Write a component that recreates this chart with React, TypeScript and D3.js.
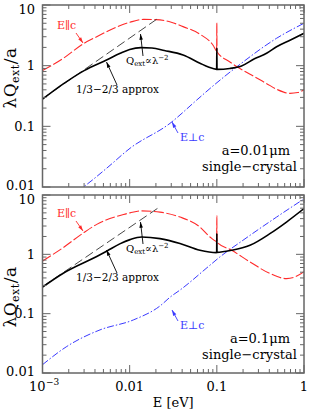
import * as React from 'react';
import * as d3 from 'd3';

// photon energy in eV, lambda*Qext/a values
// panel 1: a = 0.01 um
const p1Par: [number, number][] = [
  [0.001, 0.83], [0.00173, 1.32], [0.00294, 2.3], [0.00419, 3.0], [0.0065, 4.1],
  [0.0101, 5.2], [0.0145, 5.8], [0.02, 5.75], [0.03, 5.2], [0.041, 4.4],
  [0.064, 3.3], [0.091, 2.15], [0.0995, 1.75], [0.1, 5.0], [0.1005, 1.7],
  [0.14, 1.16], [0.17, 0.96], [0.25, 0.7], [0.37, 0.51], [0.5, 0.4],
  [0.69, 0.35], [0.85, 0.36], [1.0, 0.4],
];
const p1Perp: [number, number][] = [
  [0.0025, 0.0085], [0.00294, 0.01], [0.00545, 0.0204], [0.0101, 0.0435],
  [0.029, 0.112], [0.0586, 0.27], [0.0834, 0.42], [0.192, 1.1], [0.485, 2.83], [1.0, 5.0],
];
const p1Avg: [number, number][] = [
  [0.001, 0.28], [0.00173, 0.5], [0.003, 0.83], [0.0055, 1.25], [0.0078, 1.6],
  [0.01, 1.85], [0.0135, 1.98], [0.018, 1.95], [0.025, 1.78], [0.041, 1.5],
  [0.064, 1.1], [0.08, 0.95], [0.0995, 0.87], [0.1, 1.96], [0.1005, 0.87],
  [0.141, 0.9], [0.192, 0.99], [0.27, 1.3], [0.372, 1.6], [0.485, 2.05],
  [0.7, 2.65], [1.0, 3.42],
];

// panel 2: a = 0.1 um
const p2Par: [number, number][] = [
  [0.001, 0.77], [0.00173, 1.3], [0.00294, 2.29], [0.00419, 3.2], [0.0085, 4.7],
  [0.0101, 5.0], [0.0137, 5.4], [0.0223, 5.14], [0.0378, 4.25], [0.064, 2.88],
  [0.0834, 1.96], [0.0995, 1.65], [0.1, 4.5], [0.1005, 1.6], [0.148, 1.17],
  [0.24, 0.745], [0.406, 0.476], [0.63, 0.39], [0.8, 0.42], [1.0, 0.51],
];
const p2Perp: [number, number][] = [
  [0.001, 0.0138], [0.0019, 0.028], [0.00457, 0.0533], [0.011, 0.0783],
  [0.0223, 0.135], [0.0295, 0.193], [0.0378, 0.25], [0.0834, 0.656],
  [0.108, 0.9], [0.2, 1.73], [0.485, 4.25], [1.0, 8.6],
];
const p2Avg: [number, number][] = [
  [0.001, 0.28], [0.00173, 0.48], [0.00419, 0.92], [0.0055, 1.14], [0.0077, 1.5],
  [0.0101, 1.77], [0.0137, 1.96], [0.0223, 1.84], [0.0378, 1.52], [0.064, 1.17],
  [0.0995, 1.07], [0.1, 2.23], [0.1005, 1.08], [0.148, 1.17], [0.24, 1.42],
  [0.406, 2.23], [0.63, 3.5], [1.0, 5.9],
];

// Qext ∝ λ^-2 limit (same in both panels)
const approx: [number, number][] = [[0.001, 0.285], [0.022, 6.27]];

const xTicks = [0.001, 0.01, 0.1, 1];
const yTicks = [0.01, 0.1, 1, 10];
const yTickLabels = ['0.01', '0.1', '1', '10'];

const FONT = 'DejaVu Serif';
const RED = '#ff2a2a';
const BLUE = '#3a3aff';
const FRAME = '#666';

const x = d3.scaleLog().domain([0.001, 1]).range([42.5, 304]);

const minorTicks = (lo: number, hi: number) => {
  const out: number[] = [];
  for (let d = lo; d < hi; d *= 10) for (let k = 2; k <= 9; k++) out.push(d * k);
  return out;
};

const Arrow = ({ x1, y1, x2, y2, color }) => {
  const a = Math.atan2(y2 - y1, x2 - x1);
  const L = 6, w = 0.3;
  const p1 = [x2 - L * Math.cos(a - w), y2 - L * Math.sin(a - w)];
  const p2 = [x2 - L * Math.cos(a + w), y2 - L * Math.sin(a + w)];
  return (
    <g>
      <line x1={x1} y1={y1} x2={x2} y2={y2} stroke={color} strokeWidth={0.9} />
      <path d={`M${x2},${y2}L${p1[0]},${p1[1]}L${p2[0]},${p2[1]}Z`} fill={color} />
    </g>
  );
};

const Panel = ({ id, top, bottom, par, perp, avg, size, showX, dy, yLabelMid }) => {
  const y = d3.scaleLog().domain([0.01, 10]).range([bottom, top]);
  const line = d3
    .line<[number, number]>()
    .x((d) => x(d[0]))
    .y((d) => y(d[1]))
    .curve(d3.curveMonotoneX);
  const left = x.range()[0];
  const right = x.range()[1];
  const minX = minorTicks(0.001, 1);
  const minY = minorTicks(0.01, 10);
  // keep the edge labels inside the picture / off the neighbour panel
  const labelY = (t: number) => {
    if (t === 10) return y(t) + 9;
    if (t === 0.01) return y(t) + 3;
    return y(t) + 4.7;
  };
  return (
    <g>
      <defs>
        <clipPath id={id}>
          <rect x={left} y={top} width={right - left} height={bottom - top} />
        </clipPath>
      </defs>
      <g clipPath={`url(#${id})`} fill='none'>
        <path d={line(perp)} stroke={BLUE} strokeWidth={1} strokeDasharray='7 2 1.5 2' />
        <path d={line(par)} stroke={RED} strokeWidth={1.1} strokeDasharray='10 2.5' />
        <path d={line(approx)} stroke='#333' strokeWidth={0.9} strokeDasharray='9 4' />
        <path d={line(avg)} stroke='#000' strokeWidth={1.6} />
      </g>
      {/* ticks on all four sides */}
      <g stroke={FRAME} strokeWidth={1}>
        {xTicks.map((t) => (
          <g key={'xt' + t}>
            <line x1={x(t)} x2={x(t)} y1={bottom} y2={bottom - 8} />
            <line x1={x(t)} x2={x(t)} y1={top} y2={top + 8} />
          </g>
        ))}
        {minX.map((t) => (
          <g key={'xm' + t}>
            <line x1={x(t)} x2={x(t)} y1={bottom} y2={bottom - 4} />
            <line x1={x(t)} x2={x(t)} y1={top} y2={top + 4} />
          </g>
        ))}
        {yTicks.map((t) => (
          <g key={'yt' + t}>
            <line x1={left} x2={left + 8} y1={y(t)} y2={y(t)} />
            <line x1={right} x2={right - 8} y1={y(t)} y2={y(t)} />
          </g>
        ))}
        {minY.map((t) => (
          <g key={'ym' + t}>
            <line x1={left} x2={left + 4} y1={y(t)} y2={y(t)} />
            <line x1={right} x2={right - 4} y1={y(t)} y2={y(t)} />
          </g>
        ))}
      </g>
      <rect x={left} y={top} width={right - left} height={bottom - top} fill='none' stroke={FRAME} strokeWidth={1.5} />
      {yTicks.map((t, i) => (
        <text key={'yl' + t} x={35} y={labelY(t)} textAnchor='end' fontFamily={FONT} fontSize={13}>
          {yTickLabels[i]}
        </text>
      ))}
      {showX && (
        <g fontFamily={FONT} fontSize={13}>
          <text x={x(0.001) + 3} y={bottom + 18} textAnchor='end'>10</text>
          <text x={x(0.001) + 3.5} y={bottom + 12} textAnchor='start' fontSize={9}>−3</text>
          <text x={x(0.01)} y={bottom + 18} textAnchor='middle'>0.01</text>
          <text x={x(0.1)} y={bottom + 18} textAnchor='middle'>0.1</text>
          <text x={x(1)} y={bottom + 18} textAnchor='middle'>1</text>
          <text x={(left + right) / 2} y={bottom + 34} textAnchor='middle'>E [eV]</text>
        </g>
      )}
      <text
        transform={`translate(16,${yLabelMid}) rotate(-90)`}
        textAnchor='middle'
        fontFamily={FONT}
        fontSize={17}
        letterSpacing={0.5}>
        λQ<tspan fontSize={11} dy={3}>ext</tspan>
        <tspan dy={-3}>/a</tspan>
      </text>
      {/* annotations */}
      <g fontFamily={FONT}>
        <text x={57} y={29 + dy} fill={RED} fontSize={11}>E∥c</text>
        <Arrow x1={76} y1={33 + dy} x2={83} y2={43 + dy} color={RED} />
        <text x={126} y={64 + dy} fontSize={10}>
          Q<tspan fontSize={7} dy={2}>ext</tspan>
          <tspan dy={-2} fontSize={10}>∝λ</tspan>
          <tspan fontSize={7} dy={-4}>−2</tspan>
        </text>
        <Arrow x1={143} y1={56 + dy} x2={140.5} y2={34 + dy} color='#000' />
        <text x={76} y={93 + dy} fontSize={10.5}>1/3−2/3 approx</text>
        <Arrow x1={117} y1={85 + dy} x2={106.5} y2={62 + dy} color='#000' />
        <text x={180} y={141 + dy} fill={BLUE} fontSize={11}>E⊥c</text>
        <Arrow x1={178} y1={133 + dy} x2={172} y2={122 + dy} color={BLUE} />
        <text x={290} y={155 + dy} textAnchor='end' fontSize={13}>a=0.{size}μm</text>
        <text x={297} y={171 + dy} textAnchor='end' fontSize={13}>single−crystal</text>
      </g>
    </g>
  );
};

const App = () => {
  return (
    <svg width={314} height={411} style={{ position: 'absolute', left: 0, top: 0 }}>
      <rect width={314} height={411} fill='#fff' />
      <Panel id='c1' top={5} bottom={187} par={p1Par} perp={p1Perp} avg={p1Avg} size='01' showX={false} dy={0} yLabelMid={78} />
      <Panel id='c2' top={195} bottom={373} par={p2Par} perp={p2Perp} avg={p2Avg} size='1' showX={true} dy={188} yLabelMid={297} />
    </svg>
  );
};

export default App;
